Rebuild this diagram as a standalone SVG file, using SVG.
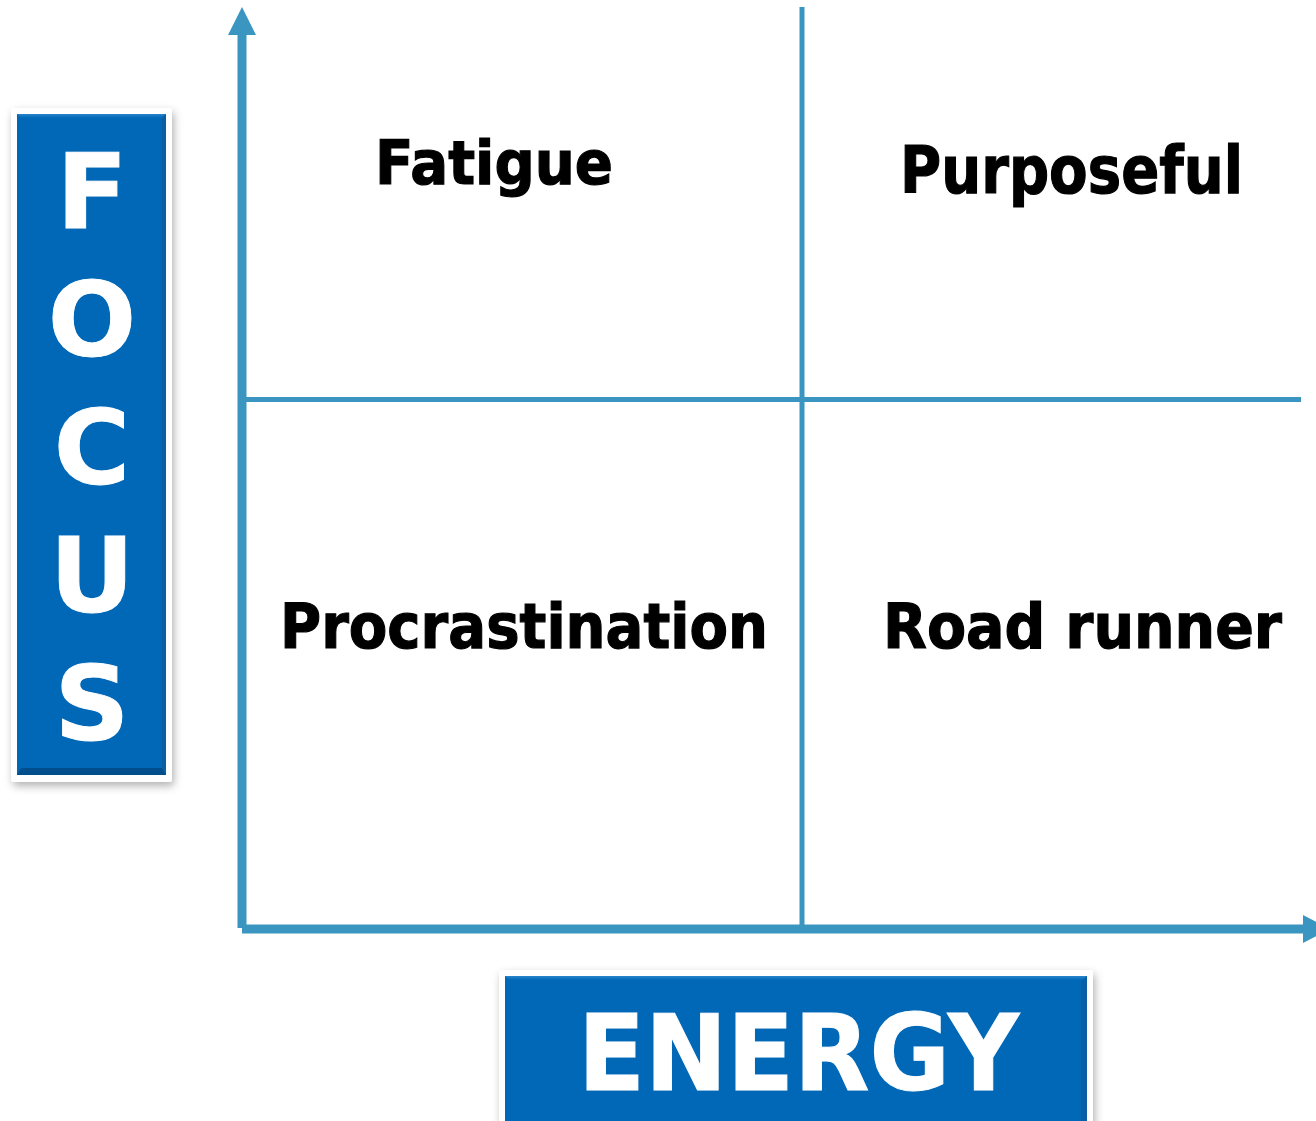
<svg xmlns="http://www.w3.org/2000/svg" width="1316" height="1121" viewBox="0 0 1316 1121">
  <style>
    .axis { stroke: #3a96c0; stroke-width: 9; fill: none; }
    .grid { stroke: #3a96c0; stroke-width: 5; fill: none; }
    .head { fill: #3a96c0; }
    .quad { font-family: "DejaVu Sans", Verdana, sans-serif; font-weight: bold; fill: #000; stroke: #000; stroke-width: 1.2; }
    .label { font-family: "DejaVu Sans", Verdana, sans-serif; font-weight: bold; fill: #fff; stroke: #fff; stroke-width: 1; }
    .frame { fill: #fff; }
    .panel { fill: #0068b7; }
  </style>
  <defs>
    <filter id="shadow" x="-20%" y="-20%" width="140%" height="140%">
      <feDropShadow dx="2" dy="4" stdDeviation="4" flood-color="#000" flood-opacity="0.3"/>
    </filter>
    <linearGradient id="bevelTop" x1="0" y1="0" x2="0" y2="1">
      <stop offset="0" stop-color="#2a84cc"/>
      <stop offset="1" stop-color="#0068b7"/>
    </linearGradient>
  </defs>

  <rect width="1316" height="1121" fill="#fff"/>

  <!-- axes and quadrant dividers -->
  <g id="connectors">
    <line class="grid" x1="802" y1="7" x2="802" y2="926"/>
    <line class="grid" x1="246" y1="399.5" x2="1301" y2="399.5"/>
    <line class="axis" x1="242" y1="33" x2="242" y2="928"/>
    <line class="axis" x1="242" y1="929" x2="1305" y2="929"/>
    <polygon class="head" points="242,7 256,35 228,35"/>
    <polygon class="head" points="1303,915 1330,929 1303,943"/>
  </g>

  <!-- quadrant labels -->
  <g id="fatigue"><text class="quad" font-size="60" x="375" y="184" textLength="238" lengthAdjust="spacingAndGlyphs">Fatigue</text></g>
  <g id="purposeful"><text class="quad" font-size="65" x="900" y="193" textLength="343" lengthAdjust="spacingAndGlyphs">Purposeful</text></g>
  <g id="procrastination"><text class="quad" font-size="62" x="280" y="648" textLength="488" lengthAdjust="spacingAndGlyphs">Procrastination</text></g>
  <g id="road-runner"><text class="quad" font-size="62" x="883" y="648" textLength="399" lengthAdjust="spacingAndGlyphs">Road runner</text></g>

  <!-- vertical axis title -->
  <g id="focus">
    <rect class="frame" x="11" y="108" width="161" height="674" rx="3" filter="url(#shadow)"/>
    <rect class="panel" x="17" y="114" width="149" height="661"/>
    <polygon fill="url(#bevelTop)" points="17,114 166,114 162,118 21,118"/>
    <polygon fill="#004f8c" points="17,775 166,775 162,768 21,768"/>
    <polygon fill="#0a5ea3" points="166,114 166,775 162,768 162,118"/>
    <g text-anchor="middle">
      <text class="label" font-size="104" x="92" y="228">F</text>
      <text class="label" font-size="104" x="92" y="356">O</text>
      <text class="label" font-size="104" x="92" y="484">C</text>
      <text class="label" font-size="104" x="92" y="612">U</text>
      <text class="label" font-size="104" x="92" y="740">S</text>
    </g>
  </g>

  <!-- horizontal axis title -->
  <g id="energy">
    <rect class="frame" x="499" y="970" width="594" height="170" rx="3" filter="url(#shadow)"/>
    <rect class="panel" x="505" y="976" width="582" height="160"/>
    <polygon fill="url(#bevelTop)" points="505,976 1087,976 1083,980 509,980"/>
    <polygon fill="#0a5ea3" points="1087,976 1087,1121 1081,1121 1081,982"/>
    <text class="label" font-size="106" x="578" y="1090" textLength="441" lengthAdjust="spacingAndGlyphs">ENERGY</text>
  </g>
</svg>
